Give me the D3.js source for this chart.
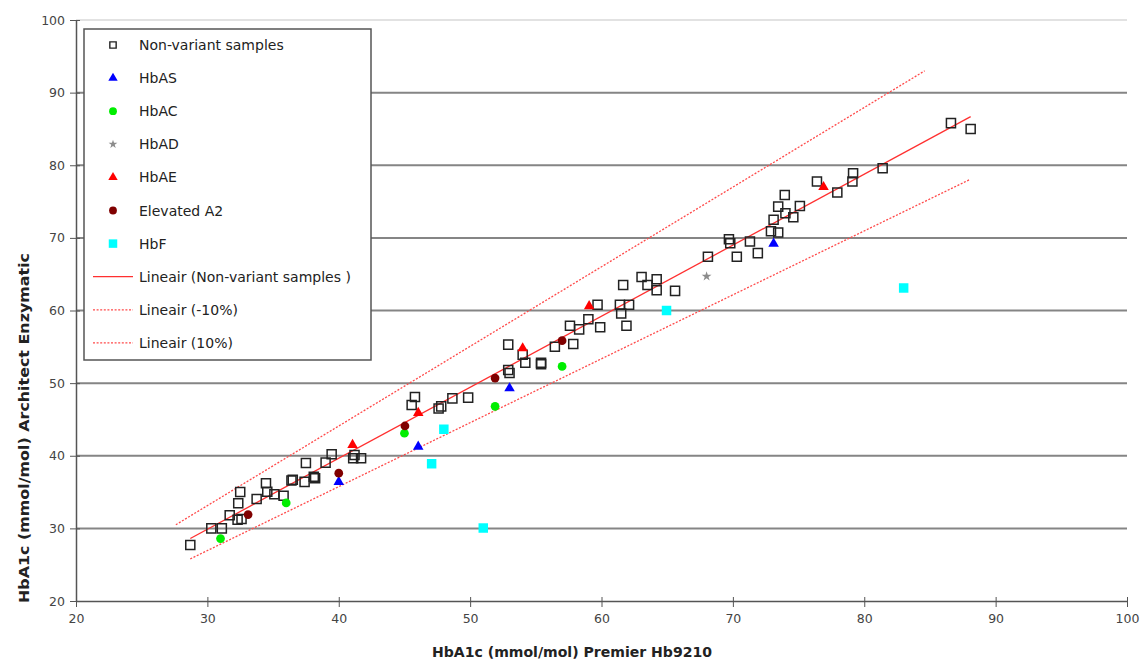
<!DOCTYPE html>
<html>
<head>
<meta charset="utf-8">
<script src="https://cdn.jsdelivr.net/npm/d3@7"></script>
<style>
  body { margin: 0; background: #fff; }
  svg { display: block; font-family: "DejaVu Sans", Verdana, sans-serif; }
</style>
</head>
<body>
<div id="chart"></div>
<script>
// series, [x, y] pairs
var nonVariant = [
  [28.7, 27.7], [30.3, 30.0], [31.1, 30.0], [31.7, 31.8], [32.3, 31.2], [32.6, 31.3],
  [32.35, 33.45], [32.5, 35.0], [33.75, 34.05], [34.46, 36.2], [34.56, 35.05], [35.1, 34.7],
  [35.8, 34.5], [36.5, 36.7], [36.4, 36.6], [37.4, 36.4], [37.5, 39.0], [38.2, 36.9],
  [38.1, 37.1], [39.0, 39.05], [39.46, 40.2], [41.1, 39.65], [41.7, 39.65], [41.2, 40.1],
  [45.8, 48.1], [45.55, 47.0], [47.6, 46.5], [47.8, 46.8], [48.65, 47.9], [49.85, 48.0],
  [52.9, 51.8], [53.0, 51.4], [52.9, 55.3], [54.0, 53.9], [54.2, 52.8], [55.4, 52.6],
  [55.4, 52.8], [56.45, 55.0], [57.85, 55.4], [57.6, 57.9], [58.3, 57.4], [59.0, 58.8],
  [59.9, 57.7], [59.7, 60.8], [61.4, 60.8], [61.5, 59.6], [62.1, 60.8], [61.9, 57.9],
  [61.65, 63.5], [63.05, 64.6], [63.5, 63.5], [64.2, 64.3], [64.2, 62.8], [65.6, 62.7],
  [68.1, 67.4], [69.7, 69.8], [69.8, 69.25], [70.3, 67.4], [71.3, 69.5], [71.9, 67.9],
  [73.1, 72.5], [72.9, 70.9], [73.45, 70.75], [73.45, 74.3], [73.95, 75.9], [74.0, 73.4],
  [74.6, 72.85], [75.1, 74.4], [76.4, 77.75], [77.95, 76.25], [79.15, 78.9], [79.1, 77.75],
  [81.4, 79.6], [86.6, 85.8], [88.1, 85.0]
];
var hbAS = [[40.0, 36.4], [46.05, 41.25], [53.0, 49.3], [73.1, 69.2]];
var hbAC = [[31.0, 28.6], [36.0, 33.5], [45.0, 43.1], [51.9, 46.8], [57.0, 52.3]];
var hbAD = [[68.0, 64.7]];
var hbAE = [[41.05, 41.5], [46.05, 45.9], [54.0, 54.8], [59.06, 60.6], [76.9, 77.0]];
var elevatedA2 = [[33.1, 31.9], [40.0, 37.6], [45.04, 44.1], [51.9, 50.7], [57.0, 55.85]];
var hbF = [[47.07, 38.9], [48.0, 43.65], [51.0, 30.05], [64.95, 60.0], [83.0, 63.1]];

// trend lines (end points)
var trendMain = [[28.7, 28.6], [88.1, 86.7]];
var trendMinus10 = [[28.7, 25.8], [88.0, 78.0]];
var trendPlus10 = [[27.6, 30.5], [84.6, 93.0]];

var xTicks = [20, 30, 40, 50, 60, 70, 80, 90, 100];
var yTicks = [20, 30, 40, 50, 60, 70, 80, 90, 100];
var legendLabels = ['Non-variant samples', 'HbAS', 'HbAC', 'HbAD', 'HbAE', 'Elevated A2', 'HbF',
  'Lineair (Non-variant samples  )', 'Lineair (-10%)', 'Lineair (10%)'];

var width = 1147, height = 663;
var plot = { left: 76, right: 1127, top: 20, bottom: 601 };

var svg = d3.select('#chart').append('svg')
  .attr('width', width)
  .attr('height', height);

var x = d3.scaleLinear().domain([20, 100]).range([plot.left, plot.right]);
var y = d3.scaleLinear().domain([20, 100]).range([plot.bottom, plot.top]);

// gridlines
svg.append('g')
  .selectAll('line')
  .data(yTicks.slice(1))
  .enter().append('line')
  .attr('x1', plot.left).attr('x2', plot.right)
  .attr('y1', function (d) { return y(d); })
  .attr('y2', function (d) { return y(d); })
  .attr('stroke', function (d) { return d === 100 ? '#e2e2e2' : '#858585'; })
  .attr('stroke-width', 2);

// axes
var yAxis = svg.append('g')
  .attr('transform', 'translate(' + plot.left + ',0)')
  .call(d3.axisLeft(y).tickValues(yTicks).tickSize(5).tickSizeOuter(0));
var xAxis = svg.append('g')
  .attr('transform', 'translate(0,' + plot.bottom + ')')
  .call(d3.axisBottom(x).tickValues(xTicks).tickSize(5).tickSizeOuter(0));

yAxis.select('.domain').attr('stroke', '#555').attr('stroke-width', 1.5);
xAxis.select('.domain').attr('stroke', '#555').attr('stroke-width', 1.5);
yAxis.selectAll('.tick line').attr('x2', -6).attr('x1', 4).attr('stroke', '#555');
xAxis.selectAll('.tick line').attr('y2', 6).attr('y1', -4).attr('stroke', '#555');
yAxis.selectAll('.tick text')
  .attr('x', -11)
  .attr('fill', '#444')
  .style('font-size', '12.5px')
  .style('font-family', '"DejaVu Sans", Verdana, sans-serif');
xAxis.selectAll('.tick text')
  .attr('y', 13)
  .attr('fill', '#444')
  .style('font-size', '12.5px')
  .style('font-family', '"DejaVu Sans", Verdana, sans-serif');

// axis titles
svg.append('text')
  .attr('x', 572)
  .attr('y', 657)
  .attr('text-anchor', 'middle')
  .attr('font-weight', 'bold')
  .attr('font-size', '13.5px')
  .attr('textLength', 280)
  .attr('lengthAdjust', 'spacingAndGlyphs')
  .attr('fill', '#222')
  .text('HbA1c (mmol/mol)  Premier Hb9210');
svg.append('text')
  .attr('transform', 'translate(29,428) rotate(-90)')
  .attr('text-anchor', 'middle')
  .attr('font-weight', 'bold')
  .attr('font-size', '13.5px')
  .attr('textLength', 350)
  .attr('lengthAdjust', 'spacingAndGlyphs')
  .attr('fill', '#222')
  .text('HbA1c (mmol/mol)  Architect Enzymatic');

// trend lines
var line = d3.line()
  .x(function (d) { return x(d[0]); })
  .y(function (d) { return y(d[1]); });
var trends = [
  { data: trendPlus10, dash: '2,1.6', color: '#ff4a4a', w: 1.3 },
  { data: trendMinus10, dash: '2,1.6', color: '#ff4a4a', w: 1.3 },
  { data: trendMain, dash: null, color: '#ff3030', w: 1.3 }
];
trends.forEach(function (t) {
  svg.append('path')
    .attr('d', line(t.data))
    .attr('fill', 'none')
    .attr('stroke', t.color)
    .attr('stroke-width', t.w)
    .attr('stroke-dasharray', t.dash);
});

// marker definitions
var series = [
  { data: nonVariant, type: d3.symbolSquare, size: 82, fill: 'none', stroke: '#222' },
  { data: hbAS, type: d3.symbolTriangle, size: 48, fill: '#0000ff', stroke: 'none' },
  { data: hbAC, type: d3.symbolCircle, size: 60, fill: '#00ee00', stroke: 'none' },
  { data: hbAD, type: d3.symbolStar, size: 30, fill: '#8c8c8c', stroke: 'none' },
  { data: hbAE, type: d3.symbolTriangle, size: 48, fill: '#ff0000', stroke: 'none' },
  { data: elevatedA2, type: d3.symbolCircle, size: 60, fill: '#800000', stroke: 'none' },
  { data: hbF, type: d3.symbolSquare, size: 90, fill: '#00ffff', stroke: 'none' }
];

series.forEach(function (s) {
  svg.append('g')
    .selectAll('path')
    .data(s.data)
    .enter().append('path')
    .attr('d', d3.symbol().type(s.type).size(s.size))
    .attr('transform', function (d) { return 'translate(' + x(d[0]) + ',' + y(d[1]) + ')'; })
    .attr('fill', s.fill)
    .attr('stroke', s.stroke)
    .attr('stroke-width', 1.5);
});

// legend
var legend = svg.append('g');
legend.append('rect')
  .attr('x', 84).attr('y', 29)
  .attr('width', 287).attr('height', 331)
  .attr('fill', '#fff')
  .attr('stroke', '#555')
  .attr('stroke-width', 1.5);

legendLabels.forEach(function (label, i) {
  var ly = 45 + i * 33.1;
  var g = legend.append('g');
  if (i < series.length) {
    var s = series[i];
    var size = s.type === d3.symbolSquare && s.fill === 'none' ? 40 : s.size * 0.8;
    g.append('path')
      .attr('d', d3.symbol().type(s.type).size(size))
      .attr('transform', 'translate(113,' + ly + ')')
      .attr('fill', s.fill)
      .attr('stroke', s.stroke)
      .attr('stroke-width', 1.4);
  } else {
    var t = trends[i === 7 ? 2 : (i === 8 ? 1 : 0)];
    g.append('line')
      .attr('x1', 93).attr('x2', 133)
      .attr('y1', ly).attr('y2', ly)
      .attr('stroke', t.color)
      .attr('stroke-width', t.w)
      .attr('stroke-dasharray', t.dash);
  }
  g.append('text')
    .attr('x', 139)
    .attr('y', ly + 5)
    .attr('font-size', '14px')
    .attr('fill', '#222')
    .text(label);
});
</script>
</body>
</html>
